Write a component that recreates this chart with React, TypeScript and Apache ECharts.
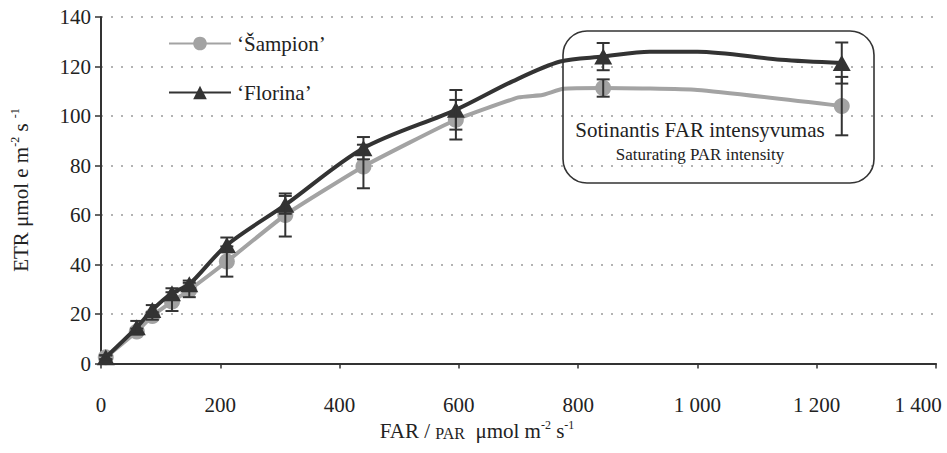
import React, { useEffect, useRef } from "react";
import * as echarts from "echarts";

// Measured PAR levels (µmol m-2 s-1)
const parValues = [8, 60, 86, 119, 148, 211, 309, 440, 595, 842, 1242];
// 'Šampion' ETR means and error
const sampionETR = [2.5, 12.9, 19.2, 25, 29.7, 41.2, 60, 79.6, 98.5, 111.3, 104];
const sampionErr = [0.8, 1.2, 1.5, 3.8, 2.9, 6.1, 8.7, 8.8, 8, 3.5, 11.8];
// 'Florina' ETR means and error
const florinaETR = [2.5, 14.6, 21.6, 28.4, 32, 47.9, 64.1, 87, 102.5, 124, 121.4];
const florinaErr = [0.8, 2.6, 2, 2, 1.5, 3, 3.6, 4.5, 8, 5.5, 8.3];
// extra curve points (no markers)
const sampionCurveExtra: [number, number][] = [[700, 107.5], [740, 108.5], [775, 111], [1000, 110.5]];
const florinaCurveExtra: [number, number][] = [[690, 114], [770, 122], [920, 126], [1000, 126], [1140, 122.7]];

const xTicks = [0, 200, 400, 600, 800, 1000, 1200, 1400];
const yTicks = [0, 20, 40, 60, 80, 100, 120, 140];

const seriesNames = ["\u2018\u0160ampion\u2019", "\u2018Florina\u2019"];
const annotationLines = ["Sotinantis FAR intensyvumas", "Saturating PAR intensity"];

const FONT = "'Liberation Serif', 'Times New Roman', serif";
const TXT = "#222";

function curveData(vals: number[], extra: [number, number][]) {
  const pts: any[] = parValues.map((x, i) => ({ value: [x, vals[i]] }));
  extra.forEach((p) => pts.push({ value: p, symbol: "none" }));
  pts.sort((a, b) => a.value[0] - b.value[0]);
  return pts;
}

function errData(vals: number[], errs: number[]) {
  return parValues.map((x, i) => [x, vals[i] - errs[i], vals[i] + errs[i]]);
}

function errRender(params: any, api: any) {
  const x = api.value(0);
  const lo = api.coord([x, api.value(1)]);
  const hi = api.coord([x, api.value(2)]);
  const w = 6.5;
  const style = { stroke: "#333", lineWidth: 2 };
  return {
    type: "group",
    children: [
      { type: "line", shape: { x1: lo[0], y1: lo[1], x2: hi[0], y2: hi[1] }, style },
      { type: "line", shape: { x1: lo[0] - w, y1: lo[1], x2: lo[0] + w, y2: lo[1] }, style },
      { type: "line", shape: { x1: hi[0] - w, y1: hi[1], x2: hi[0] + w, y2: hi[1] }, style },
    ],
  };
}

function fmtX(v: number) {
  const s = v >= 1000 ? Math.floor(v / 1000) + " " + String(v % 1000).padStart(3, "0") : String(v);
  return v === xTicks[xTicks.length - 1] ? "{last|" + s + "}" : s;
}

export default function App() {
  const ref = useRef<HTMLDivElement>(null);
  useEffect(() => {
    document.body.style.margin = "0";
    if (!ref.current) return;
    const chart = echarts.init(ref.current, null, { renderer: "svg" });
    const option: any = {
      animation: false,
      backgroundColor: "#fff",
      textStyle: { fontFamily: FONT },
      grid: { left: 101, right: 11, top: 17, bottom: 89.5 },
      xAxis: {
        type: "value",
        min: xTicks[0],
        max: xTicks[xTicks.length - 1],
        interval: 200,
        axisLine: { show: true, lineStyle: { color: "#333", width: 2 } },
        axisTick: { show: true, length: 5, lineStyle: { color: "#333", width: 1.5 } },
        splitLine: { show: false },
        axisLabel: {
          margin: 31,
          fontFamily: FONT,
          fontSize: 21,
          color: TXT,
          formatter: fmtX,
          rich: { last: { fontFamily: FONT, fontSize: 21, color: TXT, padding: [0, 36, 0, 0] } },
        },
      },
      yAxis: {
        type: "value",
        min: yTicks[0],
        max: yTicks[yTicks.length - 1],
        interval: 20,
        axisLine: { show: true, lineStyle: { color: "#333", width: 2 } },
        axisTick: { show: true, length: 6, lineStyle: { color: "#333", width: 1.5 } },
        splitLine: { show: true, lineStyle: { color: "#b3b3b3", width: 2, type: [2, 8] } },
        axisLabel: { margin: 10, fontFamily: FONT, fontSize: 21, color: TXT },
      },
      legend: {
        orient: "vertical",
        left: 168,
        top: 33,
        padding: 0,
        itemWidth: 62,
        itemHeight: 17,
        itemGap: 28,
        data: seriesNames,
        textStyle: { fontFamily: FONT, fontSize: 21, color: TXT, padding: [0, 0, 0, 1] },
      },
      series: [
        {
          name: seriesNames[0],
          type: "line",
          smooth: 0.15,
          data: curveData(sampionETR, sampionCurveExtra),
          symbol: "circle",
          symbolSize: 16,
          showAllSymbol: true,
          lineStyle: { color: "#a3a3a3", width: 4 },
          itemStyle: { color: "#a3a3a3" },
          z: 2,
        },
        {
          name: "errS",
          type: "custom",
          renderItem: errRender,
          data: errData(sampionETR, sampionErr),
          z: 3,
        },
        {
          name: seriesNames[1],
          type: "line",
          smooth: 0.3,
          data: curveData(florinaETR, florinaCurveExtra),
          symbol: "triangle",
          symbolSize: [18, 16],
          showAllSymbol: true,
          lineStyle: { color: "#333", width: 4 },
          itemStyle: { color: "#333" },
          z: 4,
        },
        {
          name: "errF",
          type: "custom",
          renderItem: errRender,
          data: errData(florinaETR, florinaErr),
          z: 5,
        },
      ],
      graphic: [
        {
          type: "rect",
          shape: { x: 563, y: 31, width: 311, height: 152, r: 24 },
          style: { fill: "none", stroke: "#333", lineWidth: 1.6 },
          z: 10,
        },
        {
          type: "text",
          x: 700,
          y: 130,
          style: { text: annotationLines[0], font: "21px " + FONT, fill: TXT, align: "center", verticalAlign: "middle" },
          z: 10,
        },
        {
          type: "text",
          x: 700,
          y: 154,
          style: { text: annotationLines[1], font: "17px " + FONT, fill: TXT, align: "center", verticalAlign: "middle" },
          z: 10,
        },
        {
          type: "text",
          x: 21,
          y: 190,
          rotation: Math.PI / 2,
          style: {
            text: "{m|ETR \u03bcmol e m}{s|-2}{m| s }{s|-1}",
            align: "center",
            verticalAlign: "middle",
            rich: {
              m: { fontFamily: FONT, fontSize: 21, fill: TXT, lineHeight: 24 },
              s: { fontFamily: FONT, fontSize: 12, fill: TXT, verticalAlign: "top", lineHeight: 14 },
            },
          },
        },
        {
          type: "text",
          x: 477,
          y: 431,
          style: {
            text: "{m|FAR / }{p|PAR}{m|  \u03bcmol m}{s|-2}{m| s}{s|-1}",
            align: "center",
            verticalAlign: "middle",
            rich: {
              m: { fontFamily: FONT, fontSize: 21, fill: TXT, lineHeight: 24 },
              p: { fontFamily: FONT, fontSize: 16, fill: TXT, lineHeight: 24, verticalAlign: "bottom", padding: [0, 0, 2, 0] },
              s: { fontFamily: FONT, fontSize: 12, fill: TXT, verticalAlign: "top", lineHeight: 14 },
            },
          },
        },
      ],
    };
    chart.setOption(option);
    return () => chart.dispose();
  }, []);
  return <div ref={ref} style={{ width: 947, height: 453 }} />;
}
